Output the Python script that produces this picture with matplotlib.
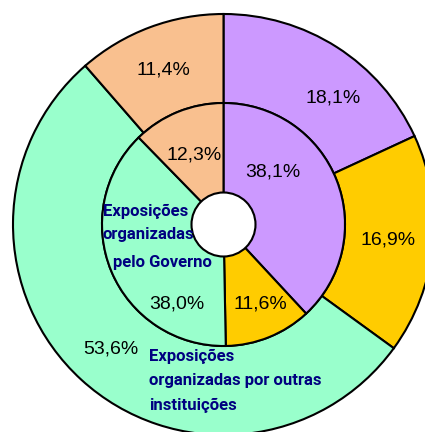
import matplotlib
matplotlib.use("Agg")
import matplotlib.pyplot as plt

plt.rcParams["font.family"] = ["Liberation Sans", "DejaVu Sans"]

# outer ring / inner ring shares (percent), clockwise from 12 o'clock
outer_vals = [18.1, 16.9, 53.6, 11.4]
outer_labels = ["18,1%", "16,9%", "53,6%", "11,4%"]
inner_vals = [38.1, 11.6, 38.0, 12.3]
inner_labels = ["38,1%", "11,6%", "38,0%", "12,3%"]
colors = ["#CC99FF", "#FFCC00", "#99FFCC", "#F9C08F"]

W, H = 425, 432
cx, cy = 223.5, H - 224.5
r_out, r_in, r_hole = 210.5, 121.5, 32

fig = plt.figure(figsize=(W / 100, H / 100), dpi=100)
ax = fig.add_axes([0, 0, 1, 1])

edge = dict(edgecolor="black", linewidth=1.5)
ax.pie(outer_vals, radius=r_out, center=(cx, cy), startangle=90,
       counterclock=False, colors=colors,
       wedgeprops=dict(width=r_out - r_in, **edge))
ax.pie(inner_vals, radius=r_in, center=(cx, cy), startangle=90,
       counterclock=False, colors=colors, wedgeprops=edge)
ax.add_patch(plt.Circle((cx, cy), r_hole, facecolor="white", **edge, zorder=5))

# label positions in pixels (x, y from top)
outer_pos = [(333, 98), (388, 240), (111, 349), (163, 70)]
inner_pos = [(273, 172), (260, 304), (177, 304), (194, 155)]
for txt, (x, y) in zip(outer_labels + inner_labels, outer_pos + inner_pos):
    ax.text(x, H - y, txt, ha="center", va="center", fontsize=14, color="black")

navy = "#000080"
bold = dict(fontsize=12, family=["Roboto", "DejaVu Sans"], fontweight="bold", color=navy)
gov_lines = [("Exposições", 103, 211), ("organizadas", 103, 235), ("pelo Governo", 113, 262)]
for txt, x, y in gov_lines:
    ax.text(x, H - y, txt, ha="left", va="center", zorder=6, **bold)

other_lines = [("Exposições", 356), ("organizadas por outras", 381), ("instituições", 405)]
for txt, y in other_lines:
    ax.text(149, H - y, txt, ha="left", va="center", **bold)

ax.set_xlim(0, W)
ax.set_ylim(0, H)
ax.set_aspect("auto")
ax.axis("off")

fig.savefig("out.png", dpi=100)
